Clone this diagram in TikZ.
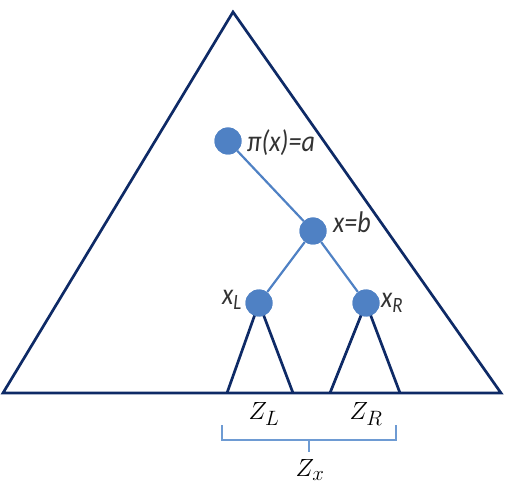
\documentclass[tikz,border=0pt]{standalone}
\usepackage{fontspec}
\setmainfont{Carlito}
\newcommand{\tallt}[1]{\scalebox{1}[1.15]{#1}}
\begin{document}
\begin{tikzpicture}[x=1pt,y=-1pt,
  tri/.style={draw=navy, line width=2.7pt, line join=miter},
  edge/.style={draw=nodeblue, line width=2.2pt},
  vert/.style={circle, fill=nodeblue, minimum size=27pt, inner sep=0pt},
  lab/.style={font=\fontsize{26}{30}\selectfont\itshape, text=labgray, inner sep=0pt},
  zlab/.style={font=\fontsize{28}{32}\selectfont, text=black, inner sep=0pt},
]
\definecolor{navy}{HTML}{0E2A66}
\definecolor{nodeblue}{HTML}{4F81C4}
\definecolor{bracecol}{HTML}{6E9BD3}
\definecolor{labgray}{HTML}{333333}
\useasboundingbox (0,0) rectangle (509,489);
% big triangle
\coordinate (A) at (233,12);
\coordinate (BL) at (3,393);
\coordinate (BR) at (501,393);
\draw[tri] (A) -- (BL) -- (BR) -- cycle;
% nodes
\node[vert] (p) at (228,141) {};
\node[vert] (x) at (313,231) {};
\node[vert] (xl) at (259,303) {};
\node[vert] (xr) at (366,303) {};
% subtrees
\coordinate (l1) at (227,393);
\coordinate (l2) at (293,393);
\coordinate (r1) at (330,393);
\coordinate (r2) at (400,393);
\draw[tri] (l1) -- (xl.center) -- (l2);
\draw[tri] (r1) -- (xr.center) -- (r2);
% edges
\draw[edge] (p) -- (x);
\draw[edge] (x) -- (xl);
\draw[edge] (x) -- (xr);
\node[vert] at (p) {};
\node[vert] at (x) {};
\node[vert] at (xl) {};
\node[vert] at (xr) {};
% labels
\node[lab, anchor=west] (lp) at (247,143) {\tallt{π(x)=a}};
\node[lab, anchor=west] (lx) at (333,222) {\tallt{x=b}};
\node[lab, anchor=west] (lxl) at (222,300) {\tallt{x\textsubscript{\fontsize{19}{22}\selectfont L}}};
\node[lab, anchor=west] (lxr) at (381,303) {\tallt{x\textsubscript{\fontsize{19}{22}\selectfont R}}};
\node[zlab] (zl) at (264,414) {$Z_L$};
\node[zlab] (zr) at (366,414) {$Z_R$};
\node[zlab] (zx) at (310,470) {$Z_x$};
% brace
\coordinate (b1) at (222,425);
\coordinate (b2) at (396,425);
\coordinate (bm) at (309,440);
\coordinate (bt) at (309,452);
\draw[draw=bracecol, line width=2pt] (b1) -- (222,440) -- (396,440) -- (b2);
\draw[draw=bracecol, line width=2pt] (bm) -- (bt);
\end{tikzpicture}
\end{document}
